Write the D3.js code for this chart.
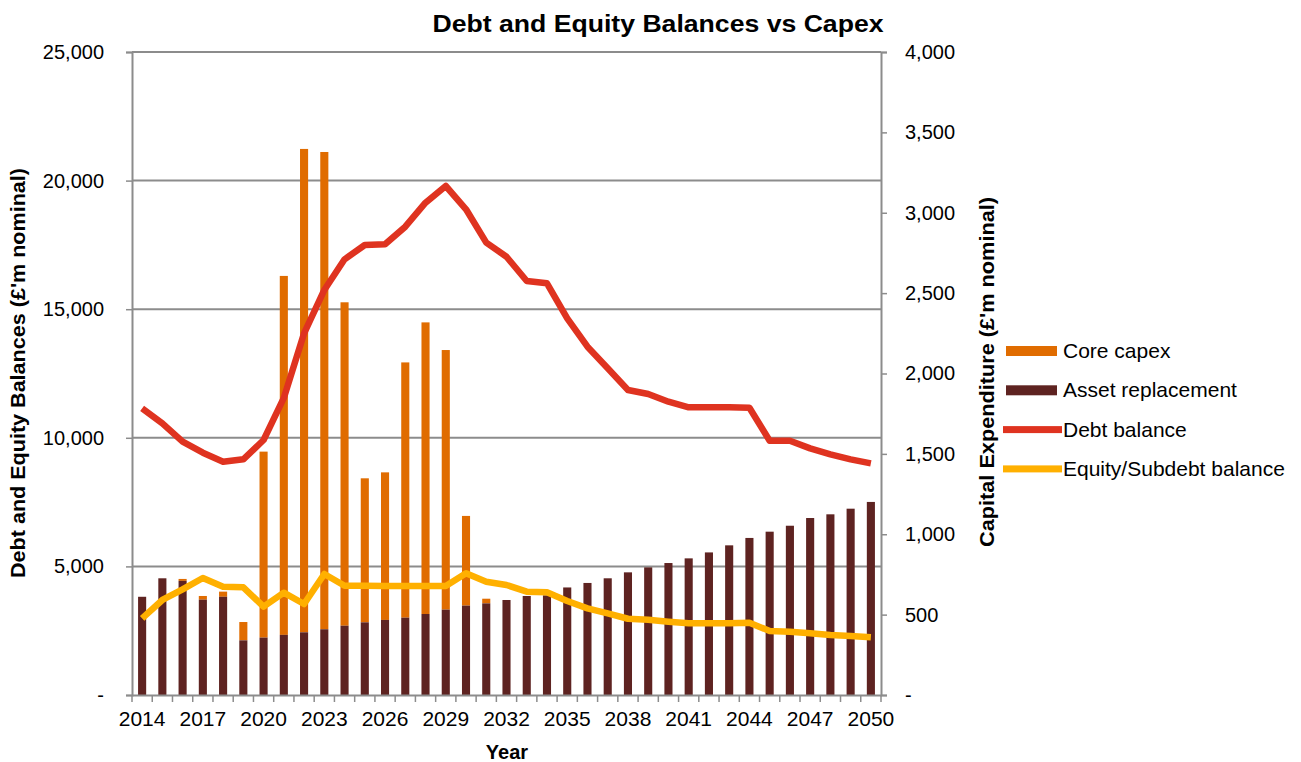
<!DOCTYPE html>
<html>
<head>
<meta charset="utf-8">
<script src="https://cdn.jsdelivr.net/npm/d3@7"></script>
<style>
  body { margin: 0; background: #fff; }
  text { font-family: "Liberation Sans", Arial, sans-serif; fill: #000; }
</style>
</head>
<body>
<div id="viz"></div>
<script>
const years = [2014, 2015, 2016, 2017, 2018, 2019, 2020, 2021, 2022, 2023, 2024, 2025, 2026,
    2027, 2028, 2029, 2030, 2031, 2032, 2033, 2034, 2035, 2036, 2037, 2038, 2039, 2040,
    2041, 2042, 2043, 2044, 2045, 2046, 2047, 2048, 2049, 2050];

// capex, right axis
const assetReplacement = [611, 726, 710, 593, 611, 340, 357, 374, 390, 409, 431, 452, 467,
    481, 504, 531, 556, 570, 591, 616, 620, 669, 697, 726, 763, 794, 821,
    850, 887, 931, 977, 1016, 1053, 1101, 1124, 1159, 1201];
const coreCapex = [0, 0, 12, 23, 32, 114, 1157, 2233, 3007, 2969, 2012, 896, 918,
    1588, 1814, 1615, 558, 29, 0, 0, 0, 0, 0, 0, 0, 0, 0,
    0, 0, 0, 0, 0, 0, 0, 0, 0, 0];

// balances, left axis
const debtBalance = [11147, 10564, 9849, 9421, 9071, 9163, 9914, 11550, 14063, 15747, 16940, 17496, 17523,
    18208, 19141, 19790, 18884, 17586, 17041, 16096, 16006, 14646, 13543, 12702, 11858, 11703, 11404,
    11186, 11186, 11186, 11170, 9888, 9888, 9590, 9357, 9163, 9008];
const equityBalance = [2981, 3694, 4110, 4550, 4211, 4187, 3433, 3978, 3538, 4705, 4250, 4250, 4238,
    4238, 4238, 4238, 4730, 4405, 4277, 4017, 3993, 3655, 3370, 3176, 2965, 2928, 2850,
    2787, 2787, 2787, 2812, 2488, 2463, 2398, 2333, 2294, 2243];

const leftTicks = [0, 5000, 10000, 15000, 20000, 25000];
const rightTicks = [0, 500, 1000, 1500, 2000, 2500, 3000, 3500, 4000];
const yearLabels = [2014, 2017, 2020, 2023, 2026, 2029, 2032, 2035, 2038, 2041, 2044, 2047, 2050];

const seriesNames = ['Core capex', 'Asset replacement', 'Debt balance', 'Equity/Subdebt balance'];
const seriesColors = ['#E06C00', '#5E2321', '#DF3320', '#FFB000'];

function buildChart(containerId) {
    const width = 1301;
    const height = 762;

    const margin = { top: 52, bottom: 67, left: 132, right: 420 };
    const innerWidth = width - margin.left - margin.right;
    const innerHeight = height - margin.top - margin.bottom;

    const svg = d3.select(containerId)
        .append('svg')
        .attr('width', width)
        .attr('height', height);

    const g = svg.append('g')
        .attr('transform', `translate(${margin.left},${margin.top})`);

    const x = d3.scaleBand()
        .domain(years)
        .range([0, innerWidth])
        .paddingInner(0.6)
        .paddingOuter(0.3);

    const yLeft = d3.scaleLinear().domain([0, 25000]).range([innerHeight, 0]);
    const yRight = d3.scaleLinear().domain([0, 4000]).range([innerHeight, 0]);

    const fmt = d => d === 0 ? '-' : d3.format(',')(d);
    const gray = '#8c8c8c';

    // gridlines
    g.append('g')
        .selectAll('line')
        .data(leftTicks.slice(1))
        .enter()
        .append('line')
        .attr('x1', 0)
        .attr('x2', innerWidth)
        .attr('y1', d => yLeft(d))
        .attr('y2', d => yLeft(d))
        .attr('stroke', gray)
        .attr('stroke-width', 2);

    // stacked capex bars
    const rows = years.map((yr, i) => ({ year: yr, asset: assetReplacement[i], core: coreCapex[i] }));
    const stack = d3.stack().keys(['core', 'asset']).order(d3.stackOrderReverse);
    const layers = stack(rows);
    const barColor = { core: seriesColors[0], asset: seriesColors[1] };

    g.selectAll('.layer')
        .data(layers)
        .enter()
        .append('g')
        .attr('class', 'layer')
        .attr('fill', d => barColor[d.key])
        .selectAll('rect')
        .data(d => d)
        .enter()
        .append('rect')
        .attr('x', d => x(d.data.year))
        .attr('width', x.bandwidth())
        .attr('y', d => yRight(d[1]))
        .attr('height', d => yRight(d[0]) - yRight(d[1]));

    // balance lines
    const line = d3.line()
        .x(d => x(d[0]) + x.bandwidth() / 2)
        .y(d => yLeft(d[1]))
        .curve(d3.curveLinear);

    [[debtBalance, seriesColors[2]], [equityBalance, seriesColors[3]]].forEach(s => {
        g.append('path')
            .datum(years.map((yr, i) => [yr, s[0][i]]))
            .attr('fill', 'none')
            .attr('stroke', s[1])
            .attr('stroke-width', 6.5)
            .attr('stroke-linejoin', 'round')
            .attr('d', line);
    });

    // axes
    const leftAxis = g.append('g')
        .call(d3.axisLeft(yLeft).tickValues(leftTicks).tickFormat(fmt).tickSize(6).tickPadding(22));
    const rightAxis = g.append('g')
        .attr('transform', `translate(${innerWidth},0)`)
        .call(d3.axisRight(yRight).tickValues(rightTicks).tickFormat(fmt).tickSize(6).tickPadding(18));
    const bottomAxis = g.append('g')
        .attr('transform', `translate(0,${innerHeight})`)
        .call(d3.axisBottom(x).tickValues(yearLabels).tickSize(0).tickPadding(16));

    // category boundary ticks
    const step = x.step();
    const bounds = years.map(yr => x(yr) - (step - x.bandwidth()) / 2).concat([innerWidth]);
    bottomAxis.selectAll('.bound')
        .data(bounds)
        .enter()
        .append('line')
        .attr('class', 'bound')
        .attr('x1', d => d)
        .attr('x2', d => d)
        .attr('y1', 0)
        .attr('y2', 7)
        .attr('stroke', gray)
        .attr('stroke-width', 1.5);

    [leftAxis, rightAxis, bottomAxis].forEach(a => {
        a.select('.domain').attr('stroke', gray).attr('stroke-width', 2);
        a.selectAll('.tick line').attr('stroke', gray).attr('stroke-width', 1.5);
        a.selectAll('text').attr('font-size', 20).attr('font-family', '"Liberation Sans", Arial, sans-serif');
    });
    bottomAxis.selectAll('text').attr('font-size', 21);

    // title
    svg.append('text')
        .attr('x', 658)
        .attr('y', 32)
        .attr('text-anchor', 'middle')
        .attr('font-size', 23)
        .attr('font-weight', 'bold')
        .attr('textLength', 451)
        .attr('lengthAdjust', 'spacingAndGlyphs')
        .text('Debt and Equity Balances vs Capex');

    svg.append('text')
        .attr('x', 507)
        .attr('y', 759)
        .attr('text-anchor', 'middle')
        .attr('font-size', 20)
        .attr('font-weight', 'bold')
        .text('Year');

    svg.append('text')
        .attr('transform', 'translate(25,373) rotate(-90)')
        .attr('text-anchor', 'middle')
        .attr('font-size', 20)
        .attr('font-weight', 'bold')
        .attr('textLength', 410)
        .attr('lengthAdjust', 'spacingAndGlyphs')
        .text('Debt and Equity Balances (£\'m nominal)');

    svg.append('text')
        .attr('transform', 'translate(994,372) rotate(-90)')
        .attr('text-anchor', 'middle')
        .attr('font-size', 20)
        .attr('font-weight', 'bold')
        .attr('textLength', 350)
        .attr('lengthAdjust', 'spacingAndGlyphs')
        .text('Capital Expenditure (£\'m nominal)');

    // legend
    const legend = svg.append('g').attr('transform', 'translate(1003,351)');
    const items = legend.selectAll('.item')
        .data(seriesNames)
        .enter()
        .append('g')
        .attr('class', 'item')
        .attr('transform', (d, i) => `translate(0,${i * 39.3})`);

    items.append('rect')
        .attr('x', (d, i) => i < 2 ? 3 : 0)
        .attr('y', (d, i) => i < 2 ? -5 : -3.5)
        .attr('width', (d, i) => i < 2 ? 51 : 59)
        .attr('height', (d, i) => i < 2 ? 10 : 7)
        .attr('fill', (d, i) => seriesColors[i]);

    items.append('text')
        .attr('x', 60)
        .attr('y', 7)
        .attr('font-size', 21)
        .text(d => d);
}

buildChart('#viz');
</script>
</body>
</html>
